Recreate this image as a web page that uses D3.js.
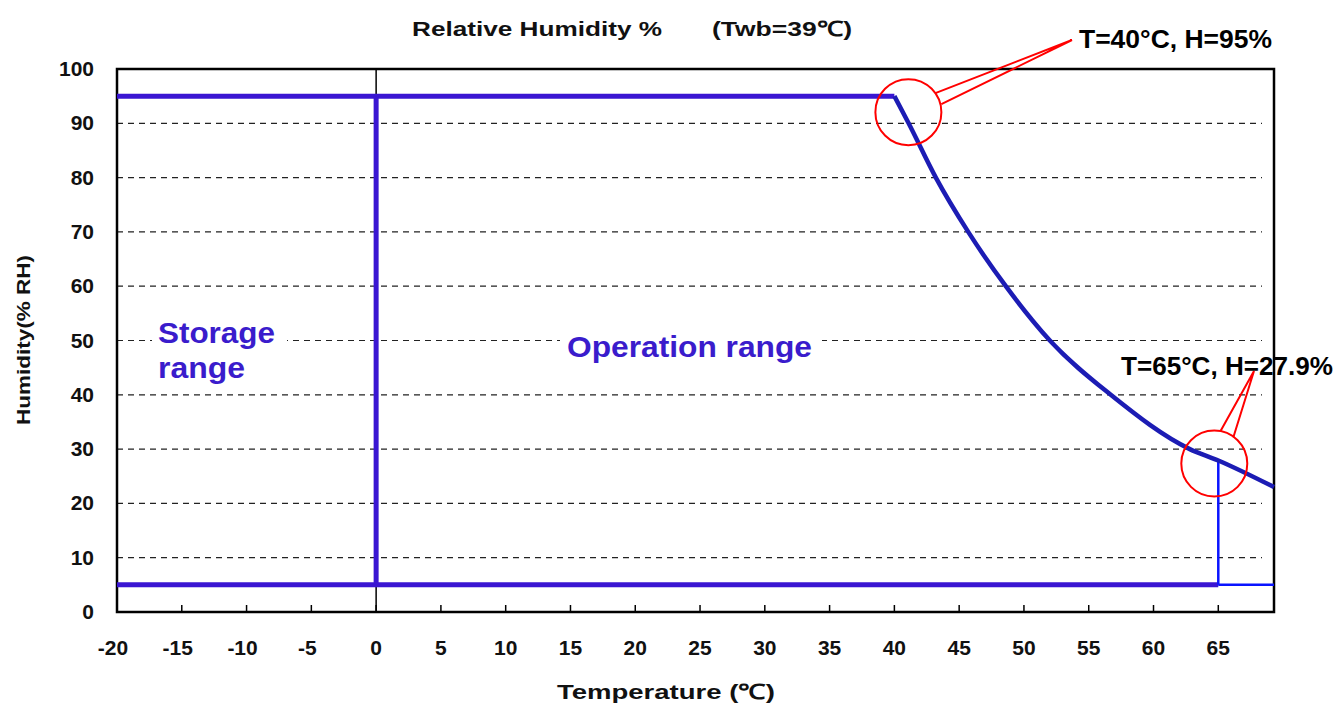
<!DOCTYPE html>
<html>
<head>
<meta charset="utf-8">
<script src="https://cdn.jsdelivr.net/npm/d3@7"></script>
<style>
  html, body { margin: 0; padding: 0; background: #fff; }
  svg { display: block; }
  text { font-family: "Liberation Sans", Arial, sans-serif; }
</style>
</head>
<body>
<svg id="chart" width="1338" height="704"></svg>
<script>
// ─── data ───
const tempTicks = [-20, -15, -10, -5, 0, 5, 10, 15, 20, 25, 30, 35, 40, 45, 50, 55, 60, 65];
const humTicks = [0, 10, 20, 30, 40, 50, 60, 70, 80, 90, 100];
const gridHum = [10, 20, 30, 40, 50, 60, 70, 80, 90];

// RH limit curve at Twb = 39°C
const curveTemp = [40, 41.1, 43.2, 45.7, 48.6, 52, 56.7, 62.8, 65, 69.3];
const curveHum  = [95, 90, 80, 70, 60, 50, 40, 30, 27.9, 23];

const rangeMinT = -20, rangeMaxT = 69.3;
const storageEdgeT = 0;
const humHigh = 95, humLow = 5;
const opKneeT = 40, opMaxT = 65, opMaxH = 27.9;

// ─── scales ───
const svg = d3.select('#chart');
const x = d3.scaleLinear().domain([rangeMinT, rangeMaxT]).range([117, 1274]);
const y = d3.scaleLinear().domain([0, 100]).range([612, 69]);

const purple = '#3a16d2';
const curveBlue = '#1c1cb4';
const brightBlue = '#0a14ff';

// ─── gridlines ───
svg.append('g').selectAll('line')
  .data(gridHum).enter().append('line')
  .attr('x1', x(rangeMinT)).attr('x2', 1262)
  .attr('y1', d => y(d)).attr('y2', d => y(d))
  .attr('stroke', '#222').attr('stroke-width', 1.2)
  .attr('stroke-dasharray', '6,5');

// white backdrops behind region labels
const backs = svg.append('g').attr('fill', '#fff');
backs.append('rect').attr('x', 152).attr('y', 312).attr('width', 135).attr('height', 72);
backs.append('rect').attr('x', 560).attr('y', 328).attr('width', 262).attr('height', 34);
backs.append('rect').attr('x', 1118).attr('y', 347).attr('width', 140).attr('height', 36);

// thin axis line at T = 0
svg.append('line')
  .attr('x1', x(0)).attr('x2', x(0)).attr('y1', y(100)).attr('y2', y(0))
  .attr('stroke', '#000').attr('stroke-width', 1.5);

// bottom ticks (inward)
svg.append('g').selectAll('line')
  .data(tempTicks.filter(t => t > rangeMinT)).enter().append('line')
  .attr('x1', d => x(d)).attr('x2', d => x(d))
  .attr('y1', y(0)).attr('y2', y(0) - 7)
  .attr('stroke', '#000').attr('stroke-width', 1.5);

// frame
svg.append('rect')
  .attr('x', x(rangeMinT)).attr('y', y(100))
  .attr('width', x(rangeMaxT) - x(rangeMinT)).attr('height', y(0) - y(100))
  .attr('fill', 'none').attr('stroke', '#000').attr('stroke-width', 2.5);

// ─── range boundaries ───
const line = d3.line().x(d => x(d[0])).y(d => y(d[1]));
const seg = (pts, color, w, gen = line) => svg.append('path')
  .attr('d', gen(pts)).attr('fill', 'none')
  .attr('stroke', color).attr('stroke-width', w)
  .attr('stroke-linejoin', 'round');

seg([[rangeMinT, humHigh], [opKneeT, humHigh]], purple, 5);
seg([[rangeMinT, humLow], [opMaxT, humLow]], purple, 5);
seg([[storageEdgeT, humLow], [storageEdgeT, humHigh]], purple, 5);
seg([[opMaxT, humLow], [rangeMaxT, humLow]], brightBlue, 2.5);
seg([[opMaxT, humLow], [opMaxT, opMaxH]], brightBlue, 2.5);
seg(curveTemp.map((t, i) => [t, curveHum[i]]), curveBlue, 4.5,
  d3.line().x(d => x(d[0])).y(d => y(d[1])).curve(d3.curveMonotoneX));

// ─── axis labels ───
svg.append('g').selectAll('text')
  .data(humTicks).enter().append('text')
  .attr('x', 94).attr('y', d => y(d) + 7)
  .attr('text-anchor', 'end')
  .attr('font-size', 21).attr('font-weight', 'bold').attr('fill', '#111')
  .text(d => d);

svg.append('g').selectAll('text')
  .data(tempTicks).enter().append('text')
  .attr('x', d => x(d) - (d < 0 ? 4 : 0)).attr('y', 655)
  .attr('text-anchor', 'middle')
  .attr('font-size', 21).attr('font-weight', 'bold').attr('fill', '#111')
  .text(d => d);

const stretched = (tx, ty, size, len, s, anchor = 'start') => svg.append('text')
  .attr('x', tx).attr('y', ty).attr('text-anchor', anchor)
  .attr('font-size', size).attr('font-weight', 'bold').attr('fill', '#111')
  .attr('textLength', len).attr('lengthAdjust', 'spacingAndGlyphs')
  .text(s);

stretched(557, 699, 21, 218, 'Temperature (℃)');
stretched(412, 36, 21, 250, 'Relative Humidity %');
stretched(712, 36, 21, 140, '(Twb=39℃)');

svg.append('text')
  .attr('transform', 'translate(30,340) rotate(-90)').attr('text-anchor', 'middle')
  .attr('font-size', 19).attr('font-weight', 'bold').attr('fill', '#111')
  .attr('textLength', 170).attr('lengthAdjust', 'spacingAndGlyphs')
  .text('Humidity(% RH)');

// ─── region labels ───
const regionText = (tx, ty, len, s) => svg.append('text')
  .attr('x', tx).attr('y', ty)
  .attr('font-size', 30).attr('font-weight', 'bold').attr('fill', '#3a1ccc')
  .attr('textLength', len).attr('lengthAdjust', 'spacingAndGlyphs')
  .text(s);
regionText(158, 343, 117, 'Storage');
regionText(158, 378, 87, 'range');
regionText(567, 357, 245, 'Operation range');

// ─── callouts ───
function callout(cx, cy, r, p1, p2, tip, label, lx, ly, len) {
  const g = svg.append('g').attr('fill', 'none').attr('stroke', '#f00').attr('stroke-width', 2);
  g.append('circle').attr('cx', cx).attr('cy', cy).attr('r', r);
  g.append('path').attr('d', `M${p1[0]},${p1[1]}L${tip[0]},${tip[1]}L${p2[0]},${p2[1]}`);
  svg.append('text')
    .attr('x', lx).attr('y', ly)
    .attr('font-size', 26).attr('font-weight', 'bold').attr('fill', '#000')
    .attr('textLength', len).attr('lengthAdjust', 'spacingAndGlyphs')
    .text(label);
}
const c1x = x(opKneeT) + 14, c1y = y(humHigh) + 16;
callout(c1x, c1y, 33, [c1x + 27, c1y - 19], [c1x + 33, c1y - 8], [1072, 40],
  'T=40°C, H=95%', 1079, 48, 193);
const c2x = x(opMaxT) - 4, c2y = y(opMaxH) + 3;
callout(c2x, c2y, 33, [c2x + 6, c2y - 32], [c2x + 19, c2y - 26], [1254, 371],
  'T=65°C, H=27.9%', 1121, 375, 212);
</script>
</body>
</html>
